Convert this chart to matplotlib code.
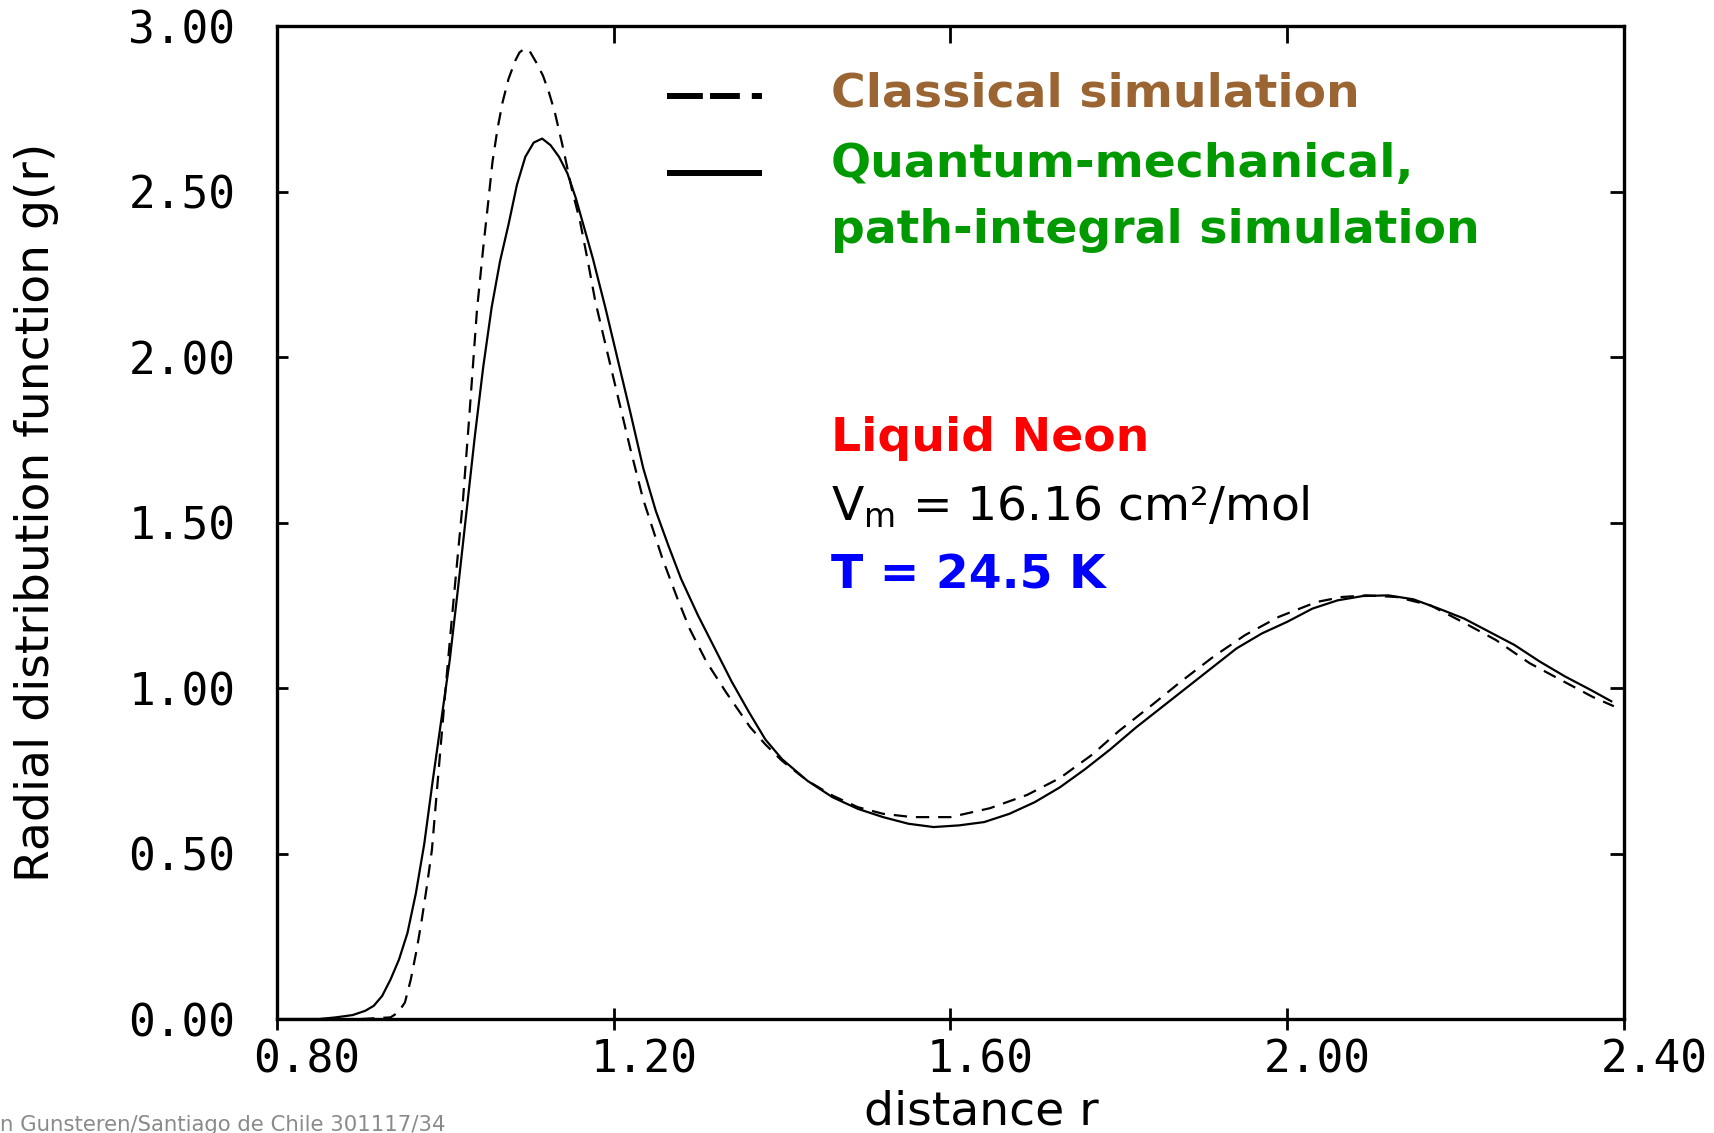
import matplotlib
matplotlib.use('Agg')
import matplotlib.pyplot as plt
from matplotlib.transforms import ScaledTranslation

# Radial distribution function of liquid neon
r_quantum = [0.80, 0.85, 0.87, 0.89, 0.905, 0.915, 0.925, 0.935, 0.945, 0.955,
             0.965, 0.975, 0.985, 0.995, 1.005, 1.015, 1.025, 1.035, 1.045, 1.055,
             1.065, 1.075, 1.085, 1.095, 1.105, 1.115, 1.125, 1.135, 1.145, 1.155,
             1.165, 1.175, 1.19, 1.205, 1.22, 1.235, 1.25, 1.265, 1.28, 1.30, 1.32,
             1.34, 1.36, 1.38, 1.40, 1.43, 1.46, 1.49, 1.52, 1.55, 1.58,
             1.61, 1.64, 1.67, 1.70, 1.73, 1.76, 1.79, 1.82, 1.85, 1.88,
             1.91, 1.94, 1.97, 2.00, 2.03, 2.06, 2.09, 2.12, 2.15, 2.18,
             2.21, 2.24, 2.27, 2.30, 2.33, 2.36, 2.385]
g_quantum = [0.00, 0.00, 0.005, 0.012, 0.025, 0.04, 0.07, 0.12, 0.18, 0.26,
             0.38, 0.53, 0.72, 0.90, 1.08, 1.30, 1.53, 1.76, 1.97, 2.15,
             2.29, 2.40, 2.52, 2.605, 2.648, 2.66, 2.64, 2.605, 2.555, 2.48,
             2.39, 2.30, 2.15, 1.99, 1.83, 1.665, 1.535, 1.43, 1.33, 1.22, 1.12,
             1.02, 0.93, 0.845, 0.785, 0.72, 0.67, 0.635, 0.61, 0.59, 0.58,
             0.585, 0.595, 0.62, 0.655, 0.70, 0.755, 0.815, 0.88, 0.94, 1.00,
             1.06, 1.12, 1.165, 1.20, 1.24, 1.265, 1.278, 1.28, 1.268, 1.24,
             1.21, 1.17, 1.13, 1.08, 1.035, 0.995, 0.96]

r_classical = [0.90, 0.935, 0.944, 0.952, 0.959, 0.966, 0.972, 0.978, 0.984, 0.989,
               0.994, 1.000, 1.007, 1.014, 1.021, 1.029, 1.0375, 1.045, 1.051, 1.056,
               1.062, 1.068, 1.075, 1.083, 1.088, 1.094, 1.100, 1.108, 1.116, 1.123, 1.130,
               1.140, 1.150, 1.160, 1.170, 1.178, 1.19, 1.205, 1.22, 1.235, 1.258,
               1.275, 1.29, 1.31, 1.334, 1.362, 1.38, 1.40, 1.43, 1.46, 1.49,
               1.52, 1.555, 1.60, 1.647, 1.691, 1.73, 1.769, 1.80, 1.84, 1.873,
               1.912, 1.95, 1.99, 2.035, 2.065, 2.094, 2.13, 2.17, 2.208, 2.248,
               2.288, 2.332, 2.363, 2.388]
g_classical = [0.00, 0.005, 0.02, 0.05, 0.12, 0.21, 0.30, 0.40, 0.51, 0.66,
               0.81, 0.99, 1.19, 1.38, 1.57, 1.84, 2.14, 2.33, 2.47, 2.59,
               2.69, 2.77, 2.84, 2.895, 2.92, 2.932, 2.925, 2.89, 2.85, 2.80, 2.74,
               2.63, 2.51, 2.41, 2.28, 2.17, 2.04, 1.88, 1.72, 1.57, 1.39,
               1.275, 1.18, 1.08, 0.985, 0.882, 0.83, 0.78, 0.72, 0.675, 0.64,
               0.62, 0.61, 0.61, 0.637, 0.677, 0.728, 0.80, 0.87, 0.95, 1.018,
               1.094, 1.16, 1.215, 1.26, 1.275, 1.28, 1.275, 1.25, 1.20, 1.145,
               1.075, 1.015, 0.973, 0.945]

x_ticks = [0.8, 1.2, 1.6, 2.0, 2.4]
x_tick_labels = ['0.80', '1.20', '1.60', '2.00', '2.40']
y_ticks = [0.0, 0.5, 1.0, 1.5, 2.0, 2.5, 3.0]
y_tick_labels = ['0.00', '0.50', '1.00', '1.50', '2.00', '2.50', '3.00']

fig = plt.figure(figsize=(17.15, 11.33), dpi=100)
ax = fig.add_axes([0.1615, 0.1006, 0.7854, 0.8764])

ax.plot(r_quantum, g_quantum, color='black', lw=1.6)
ax.plot(r_classical, g_classical, color='black', lw=1.6, dashes=(6, 4))

ax.set_xlim(0.8, 2.4)
ax.set_ylim(0, 3)
for sp in ax.spines.values():
    sp.set_linewidth(2.4)

mono = 'DejaVu Sans Mono'
ax.set_xticks(x_ticks, x_tick_labels, fontfamily=mono, fontsize=32)
ax.set_yticks(y_ticks, y_tick_labels, fontfamily=mono, fontsize=32)
ax.tick_params(axis='x', direction='inout', length=16, width=2, pad=6)
ax.tick_params(axis='y', direction='in', length=8, width=2, pad=30)

# labels on x sit a bit to the right of their ticks in the original
shift = ScaledTranslation(0.30, 0, fig.dpi_scale_trans)
for lab in ax.get_xticklabels():
    lab.set_transform(lab.get_transform() + shift)

top = ax.secondary_xaxis('top')
top.set_xticks(x_ticks)
top.tick_params(direction='in', length=12, width=2, labeltop=False)
right = ax.secondary_yaxis('right')
right.set_yticks(y_ticks)
right.tick_params(direction='in', length=10, width=2, labelright=False)

fig.text(0.021, 0.548, 'Radial distribution function g(r)', rotation=90,
         fontsize=34, ha='center', va='center')
fig.text(0.572, 0.0075, 'distance r', fontsize=34, ha='center', va='baseline')
fig.text(0.0, 0.002, 'n Gunsteren/Santiago de Chile 301117/34', color='#8a8a8a',
         fontsize=15.3, va='baseline')

# legend drawn by hand, as in the slide
ax.plot([0.2895, 0.36], [0.930, 0.930], transform=ax.transAxes, color='black',
        lw=4.3, dashes=(6.0, 1.2, 5.0, 2.0, 1.7, 10))
ax.plot([0.2895, 0.36], [0.852, 0.852], transform=ax.transAxes, color='black',
        lw=4.3, solid_capstyle='butt')

tx = 0.411
ax.text(tx, 0.9194, 'Classical simulation', transform=ax.transAxes,
        fontsize=34, fontweight='bold', color='#9a6533', va='baseline')
ax.text(tx, 0.848, 'Quantum-mechanical,', transform=ax.transAxes,
        fontsize=34, fontweight='bold', color='#009a00', va='baseline')
ax.text(tx, 0.7815, 'path-integral simulation', transform=ax.transAxes,
        fontsize=34, fontweight='bold', color='#009a00', va='baseline')
ax.text(tx, 0.572, 'Liquid Neon', transform=ax.transAxes,
        fontsize=34, fontweight='bold', color='#ff0000', va='baseline')
ax.text(tx, 0.5025, 'V$_{\\mathrm{m}}$ = 16.16 cm²/mol', transform=ax.transAxes,
        fontsize=34, color='black', va='baseline')
ax.text(tx, 0.434, 'T = 24.5 K', transform=ax.transAxes,
        fontsize=34, fontweight='bold', color='#0000ff', va='baseline')

fig.savefig('out.png', dpi=100)
